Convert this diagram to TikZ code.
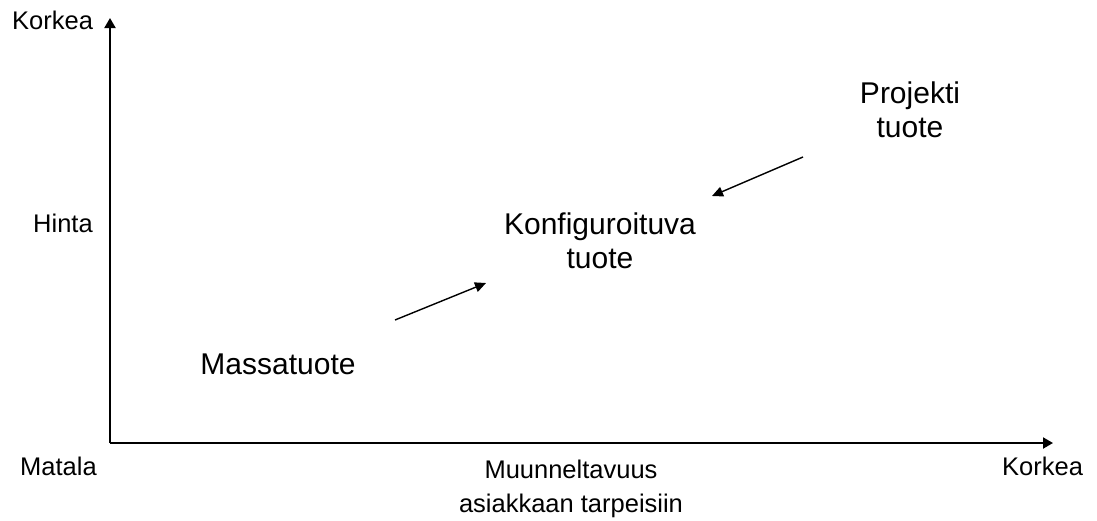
\documentclass[tikz,border=0pt]{standalone}
\usepackage{fontspec}
\setmainfont{Liberation Sans}
\usetikzlibrary{arrows.meta}
\begin{document}
\begin{tikzpicture}[x=1pt,y=-1pt,
  axis/.style={line width=2pt,-{Triangle[length=10pt,width=11pt]}},
  trend/.style={line width=1.4pt,-{Triangle[length=11pt,width=10pt]}},
  small/.style={font=\fontsize{25.5}{34}\selectfont,inner sep=0pt},
  big/.style={font=\fontsize{30}{33.5}\selectfont,inner sep=0pt,align=center}]
\useasboundingbox (0,0) rectangle (1097,520);
% axes
\coordinate (o) at (110,443);
\coordinate (ytop) at (110,18);
\coordinate (xend) at (1053,443);
\draw[axis] (o) -- (ytop);
\draw[axis] (o) -- (xend);
% axis labels
\node[small,anchor=base west] (ymax) at (12,29) {Korkea};
\node[small,anchor=base west] (ylab) at (33,232) {Hinta};
\node[small,anchor=base west] (xmin) at (20,475) {Matala};
\node[small,anchor=base west] (xmax) at (1002,475) {Korkea};
% multi-line nodes: base anchor sits on the last line
\node[small,align=center,anchor=base] (xlab) at (571,512) {Muunneltavuus\\asiakkaan tarpeisiin};
% product types
\node[big,anchor=base] (mass) at (278,374) {Massatuote};
\node[big,anchor=base] (konf) at (600,268) {Konfiguroituva\\tuote};
\node[big,anchor=base] (proj) at (910,137) {Projekti\\tuote};
% trend arrows
\coordinate (a1s) at (395,320);
\coordinate (a1e) at (486,283);
\coordinate (a2s) at (803,157);
\coordinate (a2e) at (712,196);
\draw[trend] (a1s) -- (a1e);
\draw[trend] (a2s) -- (a2e);
\end{tikzpicture}
\end{document}
